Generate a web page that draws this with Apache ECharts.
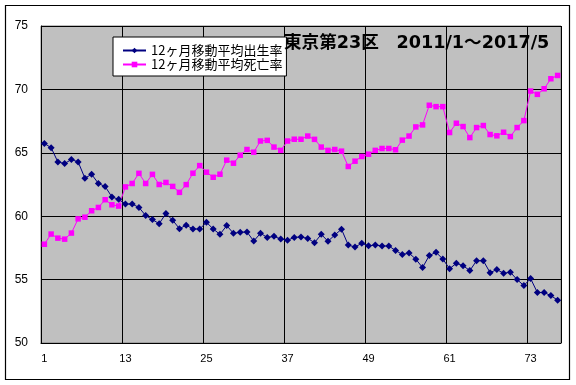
<!DOCTYPE html>
<html>
<head>
<meta charset="utf-8">
<script src="https://cdn.jsdelivr.net/npm/echarts@6/dist/echarts.min.js"></script>
<style>
html,body{margin:0;padding:0;background:#fff;}
#c{width:576px;height:385px;}
</style>
</head>
<body>
<div id="c"></div>
<script>
const months = Array.from({length: 77}, (_, i) => String(i + 1));
const birthName = '12ヶ月移動平均出生率';
const deathName = '12ヶ月移動平均死亡率';
const birthRate = [
  65.74, 65.40, 64.28, 64.15, 64.47, 64.28, 63.00, 63.30, 62.58, 62.34,
  61.52, 61.33, 60.96, 60.96, 60.69, 60.05, 59.73, 59.41, 60.21, 59.68,
  59.02, 59.29, 58.99, 58.99, 59.52, 58.99, 58.57, 59.26, 58.65, 58.73,
  58.76, 58.04, 58.65, 58.33, 58.41, 58.20, 58.10, 58.33, 58.36, 58.25,
  57.91, 58.57, 58.02, 58.52, 58.97, 57.72, 57.57, 57.86, 57.67, 57.72,
  57.65, 57.65, 57.30, 56.98, 57.09, 56.61, 55.95, 56.90, 57.15, 56.62,
  55.86, 56.28, 56.10, 55.71, 56.49, 56.49, 55.55, 55.79, 55.50, 55.58,
  55.00, 54.53, 55.08, 53.98, 53.98, 53.74, 53.38
];
const deathRate = [
  57.79, 58.59, 58.27, 58.19, 58.67, 59.79, 59.92, 60.43, 60.69, 61.30,
  60.90, 60.80, 62.31, 62.58, 63.38, 62.58, 63.30, 62.50, 62.66, 62.35,
  61.88, 62.49, 63.39, 63.99, 63.47, 63.07, 63.31, 64.42, 64.18, 64.81,
  65.26, 65.05, 65.93, 65.98, 65.45, 65.19, 65.93, 66.07, 66.07, 66.32,
  66.06, 65.45, 65.19, 65.26, 65.13, 63.92, 64.34, 64.71, 64.89, 65.19,
  65.34, 65.34, 65.24, 66.00, 66.32, 67.04, 67.20, 68.75, 68.64, 68.64,
  66.60, 67.33, 67.07, 66.20, 66.99, 67.15, 66.44, 66.34, 66.62, 66.28,
  66.99, 67.54, 69.87, 69.61, 70.05, 70.84, 71.10
];
const titleText = '東京第23区　2011/1～2017/5';

const chart = echarts.init(document.getElementById('c'), null, {renderer: 'canvas'});
chart.setOption({
  animation: false,
  backgroundColor: '#ffffff',
  title: {
    text: titleText,
    left: 284,
    top: 35,
    padding: 0,
    textStyle: {
      fontSize: 17.6,
      fontWeight: 'bold',
      color: '#000',
      fontFamily: "'DejaVu Sans', 'Noto Sans CJK JP', sans-serif"
    }
  },
  legend: {
    orient: 'vertical',
    left: 113,
    top: 37,
    width: 160,
    padding: [7, 4, 5, 9],
    itemGap: 1,
    itemWidth: 23,
    itemHeight: 7,
    backgroundColor: '#ffffff',
    borderColor: '#000000',
    borderWidth: 1,
    borderRadius: 0,
    data: [birthName, deathName],
    textStyle: {
      fontSize: 13,
      lineHeight: 13,
      color: '#000',
      fontFamily: "'Noto Sans CJK JP', sans-serif"
    }
  },
  graphic: [{
    type: 'rect',
    shape: {x: 5.5, y: 5.5, width: 564, height: 374},
    style: {fill: 'none', stroke: '#000', lineWidth: 1.2},
    silent: true
  }],
  grid: {
    left: 41,
    top: 26,
    width: 520,
    height: 317,
    show: true,
    backgroundColor: '#c0c0c0',
    borderColor: '#808080',
    borderWidth: 1
  },
  xAxis: {
    type: 'category',
    data: months,
    boundaryGap: true,
    axisLine: {show: true, lineStyle: {color: '#000', width: 1}},
    axisTick: {show: false},
    axisLabel: {
      interval: 11,
      margin: 10,
      fontSize: 11,
      color: '#000',
      fontFamily: "Arial, 'Liberation Sans', sans-serif"
    },
    splitLine: {show: true, interval: 11, lineStyle: {color: '#000', width: 1}}
  },
  yAxis: {
    type: 'value',
    min: 50,
    max: 75,
    interval: 5,
    axisLine: {show: true, lineStyle: {color: '#000', width: 1}},
    axisTick: {show: false},
    axisLabel: {
      margin: 13,
      fontSize: 12,
      color: '#000',
      fontFamily: "Arial, 'Liberation Sans', sans-serif"
    },
    splitLine: {show: true, lineStyle: {color: '#000', width: 1}}
  },
  series: [
    {
      name: birthName,
      type: 'line',
      data: birthRate,
      showAllSymbol: true,
      symbol: 'diamond',
      symbolSize: 7,
      lineStyle: {color: '#000080', width: 1},
      itemStyle: {color: '#000080'}
    },
    {
      name: deathName,
      type: 'line',
      data: deathRate,
      showAllSymbol: true,
      symbol: 'rect',
      symbolSize: 5.5,
      lineStyle: {color: '#ff00ff', width: 1},
      itemStyle: {color: '#ff00ff'}
    }
  ]
});
</script>
</body>
</html>
